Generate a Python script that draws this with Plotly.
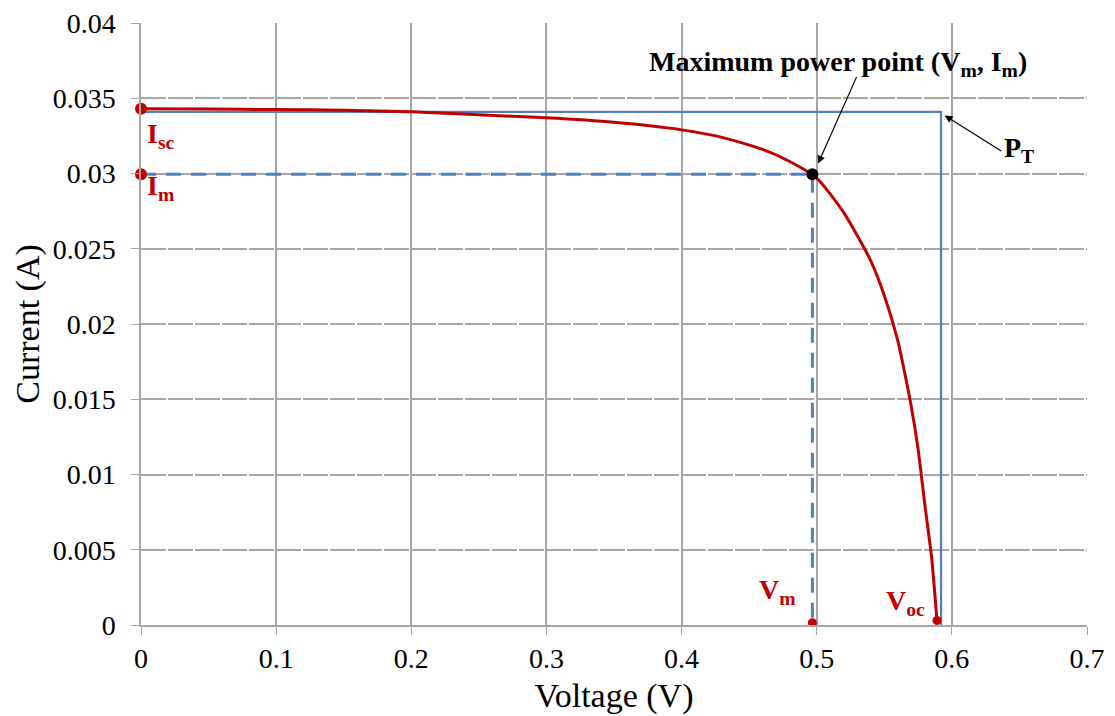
import plotly.graph_objects as go

# I-V curve
voltage = [0, 0.05, 0.1, 0.15, 0.2, 0.25, 0.3, 0.35, 0.4, 0.43, 0.46, 0.48, 0.5,
           0.52, 0.54, 0.55, 0.56, 0.565, 0.57, 0.575, 0.58, 0.585, 0.589]
current = [0.0343, 0.03428, 0.03425, 0.0342, 0.0341, 0.0339, 0.0337, 0.0334, 0.0329,
           0.0324, 0.0316, 0.0308, 0.0297, 0.0274, 0.0242, 0.0219, 0.0189, 0.0168,
           0.0145, 0.0117, 0.0080, 0.0045, 0.0003]

# Key points
isc = 0.0343
im = 0.02995
vm = 0.4968
voc = 0.589
pt_v = 0.592
pt_i = 0.0341

x_ticks = [0, 0.1, 0.2, 0.3, 0.4, 0.5, 0.6, 0.7]
x_labels = ["0", "0.1", "0.2", "0.3", "0.4", "0.5", "0.6", "0.7"]
y_ticks = [0, 0.005, 0.01, 0.015, 0.02, 0.025, 0.03, 0.035, 0.04]
y_labels = ["0", "0.005", "0.01", "0.015", "0.02", "0.025", "0.03", "0.035", "0.04"]

RED = "#c00000"
BLUE = "#4f81bd"
GRID = "#a6a6a6"
FONT = "Liberation Serif, Times New Roman, serif"

fig = go.Figure()

# P_T rectangle (theoretical max power)
fig.add_trace(go.Scatter(x=[0, pt_v, pt_v], y=[pt_i, pt_i, 0], mode="lines",
                         line=dict(color=BLUE, width=2.2), cliponaxis=False,
                         hoverinfo="skip"))
# MPP dashed rectangle
fig.add_trace(go.Scatter(x=[0, vm, vm], y=[im, im, 0], mode="lines",
                         line=dict(color=BLUE, width=3, dash="15px,10px"),
                         cliponaxis=False, hoverinfo="skip"))
# I-V curve
fig.add_trace(go.Scatter(x=voltage, y=current, mode="lines",
                         line=dict(color=RED, width=3, shape="spline", smoothing=0.6),
                         cliponaxis=False))
# red markers
fig.add_trace(go.Scatter(x=[0, 0], y=[isc, im], mode="markers",
                         marker=dict(color=RED, size=12), cliponaxis=False))
fig.add_trace(go.Scatter(x=[vm, voc], y=[0.00015, 0.0003], mode="markers",
                         marker=dict(color=RED, size=9), cliponaxis=False))
# MPP marker
fig.add_trace(go.Scatter(x=[vm], y=[im], mode="markers",
                         marker=dict(color="black", size=12), cliponaxis=False))

red_font = dict(family=FONT, size=28, color=RED)
black_font = dict(family=FONT, size=28, color="black")

annotations = [
    dict(x=0.003, y=0.0325, text="<b>I<sub>sc</sub></b>", xanchor="left", yanchor="middle",
         showarrow=False, font=red_font),
    dict(x=0.003, y=0.0291, text="<b>I<sub>m</sub></b>", xanchor="left", yanchor="middle",
         showarrow=False, font=red_font),
    dict(x=0.471, y=0.0022, text="<b>V<sub>m</sub></b>", xanchor="center", yanchor="middle",
         showarrow=False, font=red_font),
    dict(x=0.5658, y=0.0015, text="<b>V<sub>oc</sub></b>", xanchor="center", yanchor="middle",
         showarrow=False, font=red_font),
    dict(x=0.650, y=0.0316, text="<b>P<sub>T</sub></b>", xanchor="center", yanchor="middle",
         showarrow=False, font=black_font),
    dict(x=0.5155, y=0.0373, text="<b>Maximum power point (V<sub>m</sub>, I<sub>m</sub>)</b>",
         xanchor="center", yanchor="middle", showarrow=False, font=black_font),
    dict(x=0.501, y=0.03066, ax=0.530, ay=0.03652, axref="x", ayref="y", text="",
         showarrow=True, arrowhead=2, arrowsize=1.3, arrowwidth=1.2, arrowcolor="black",
         standoff=0),
    dict(x=0.5947, y=0.03386, ax=0.6376, ay=0.03143, axref="x", ayref="y", text="",
         showarrow=True, arrowhead=2, arrowsize=1.3, arrowwidth=1.2, arrowcolor="black",
         standoff=0),
]

fig.update_layout(
    width=1115, height=716,
    margin=dict(l=141, r=28, t=23, b=91),
    paper_bgcolor="white", plot_bgcolor="white",
    showlegend=False,
    font=dict(family=FONT, size=28, color="black"),
    annotations=annotations,
    xaxis=dict(range=[0, 0.7], tickvals=x_ticks, ticktext=x_labels, automargin=False,
               showgrid=True, gridcolor=GRID, gridwidth=1.5,
               showline=True, linecolor=GRID, linewidth=1.5,
               zeroline=False, ticks="outside", ticklen=8, tickcolor=GRID,
               tickfont=dict(family=FONT, size=28, color="black"),
               title=dict(text="Voltage (V)", font=dict(family=FONT, size=34), standoff=10)),
    yaxis=dict(range=[0, 0.04], tickvals=y_ticks, ticktext=y_labels, automargin=False,
               showgrid=True, gridcolor=GRID, gridwidth=1.5, griddash="25px,2px",
               showline=True, linecolor=GRID, linewidth=1.5,
               zeroline=False, ticks="outside", ticklen=8, tickcolor=GRID,
               tickfont=dict(family=FONT, size=28, color="black"), ticklabelstandoff=10,
               title=dict(text="Current (A)", font=dict(family=FONT, size=34), standoff=3)),
)

fig.write_html("out.html", config={"displayModeBar": False},
               post_script="document.body.style.margin='0';")
